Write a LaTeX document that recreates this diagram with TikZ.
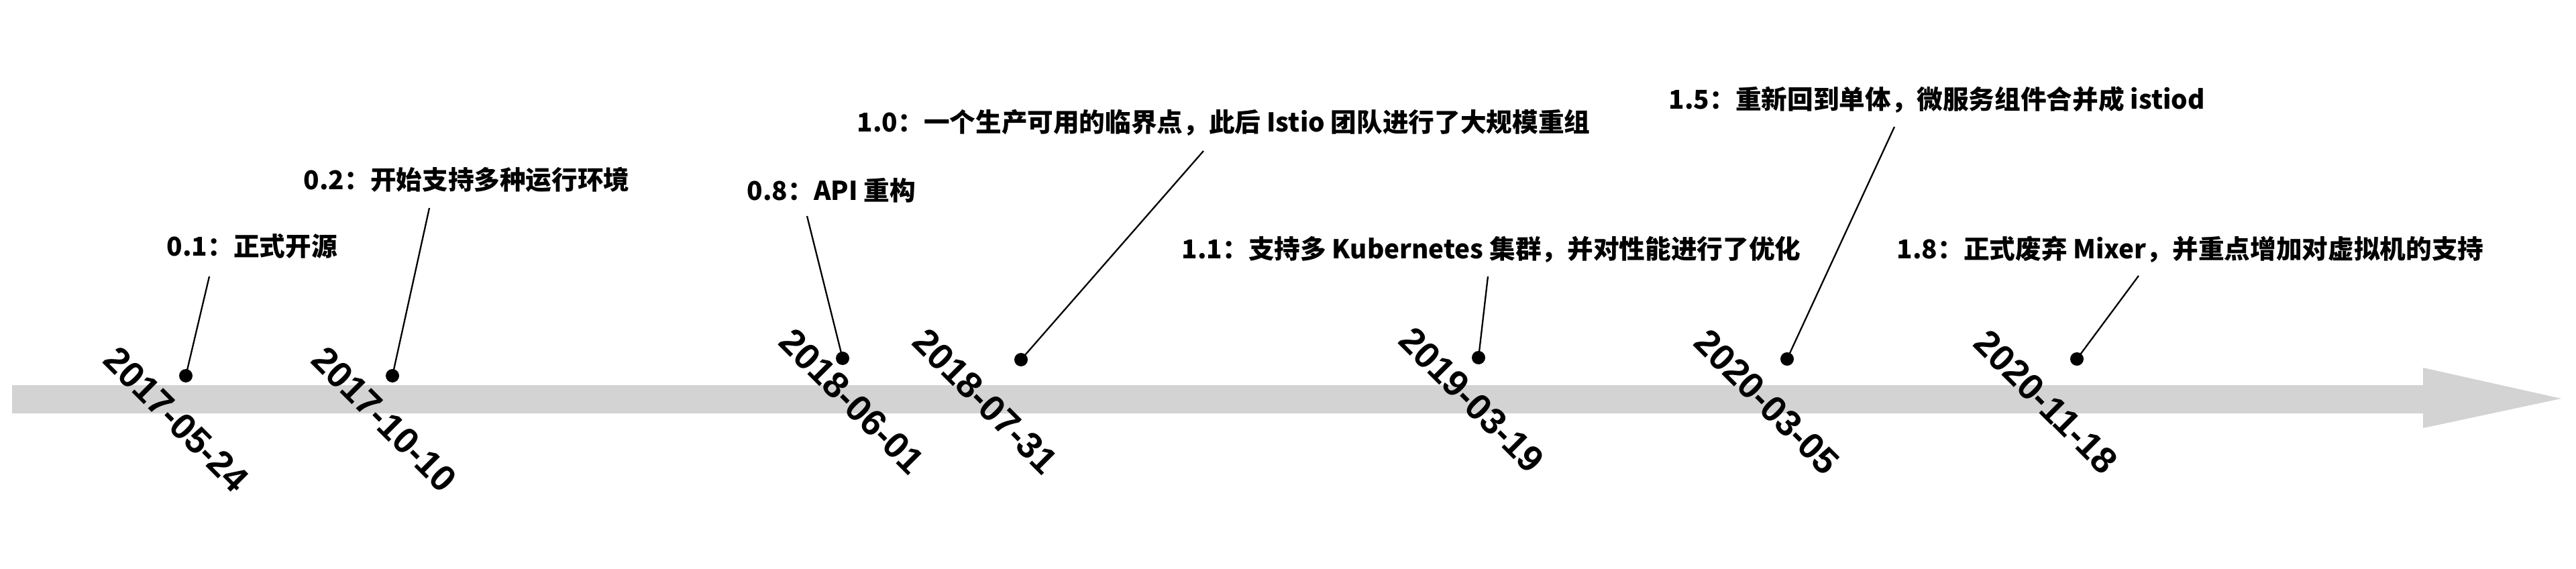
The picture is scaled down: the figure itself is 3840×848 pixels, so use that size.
\documentclass[tikz,border=0pt]{standalone}
\usepackage{fontspec}
\setmainfont{Noto Sans CJK SC}
\newfontfamily\datefont{Liberation Sans}
\definecolor{band}{HTML}{D3D3D3}
\tikzset{
	dot/.style = {circle, fill=black, inner sep=0pt, minimum size=2mm},
	note/.style = {anchor=west, inner sep=0pt, font=\fontsize{11pt}{13pt}\selectfont\bfseries},
	day/.style = {rotate=-45, inner sep=0pt, font=\datefont\fontsize{15.5pt}{17pt}\selectfont\bfseries},
	pin/.style = {line width=0.23mm}
}
\begin{document}
\begin{tikzpicture}[x=0.1mm, y=-0.1mm]
		\useasboundingbox (0,0) rectangle (3840,848);
		% timeline
		\fill[band] (18,574) -- (3612,574) -- (3612,548) -- (3818,594) -- (3612,638) -- (3612,616) -- (18,616) -- cycle;
		% dates
		\node[day] (s1) at (263,625) {2017-05-24};
		\node[day] (s2) at (573,625) {2017-10-10};
		\node[day] (s3) at (1270,598) {2018-06-01};
		\node[day] (s4) at (1469,598) {2018-07-31};
		\node[day] (s5) at (2194,596) {2019-03-19};
		\node[day] (s6) at (2634,599) {2020-03-05};
		\node[day] (s7) at (3050,599) {2020-11-18};
		% points
		\node[dot] (d1) at (277,560) {};
		\node[dot] (d2) at (585,560) {};
		\node[dot] (d3) at (1256,534) {};
		\node[dot] (d4) at (1522,536) {};
		\node[dot] (d5) at (2204,533) {};
		\node[dot] (d6) at (2664,535) {};
		\node[dot] (d7) at (3096,535) {};
		% releases
		\node[note] (v1) at (248,367) {0.1：正式开源};
		\node[note] (v2) at (452,268) {0.2：开始支持多种运行环境};
		\node[note] (v3) at (1113,284) {0.8：API 重构};
		\node[note] (v4) at (1277,183) {1.0：一个生产可用的临界点，此后 Istio 团队进行了大规模重组};
		\node[note] (v5) at (1761,372) {1.1：支持多 Kubernetes 集群，并对性能进行了优化};
		\node[note] (v6) at (2487,149) {1.5：重新回到单体，微服务组件合并成 istiod};
		\node[note] (v7) at (2827,372) {1.8：正式废弃 Mixer，并重点增加对虚拟机的支持};
		\coordinate (t1) at (312,412);
		\coordinate (t2) at (640,310);
		\coordinate (t3) at (1203,322);
		\coordinate (t4) at (1794,225);
		\coordinate (t5) at (2218,412);
		\coordinate (t6) at (2824,189);
		\coordinate (t7) at (3188,411);
		\draw[pin] (d1.center) -- (t1);
		\draw[pin] (d2.center) -- (t2);
		\draw[pin] (d3.center) -- (t3);
		\draw[pin] (d4.center) -- (t4);
		\draw[pin] (d5.center) -- (t5);
		\draw[pin] (d6.center) -- (t6);
		\draw[pin] (d7.center) -- (t7);
	\end{tikzpicture}
\end{document}
